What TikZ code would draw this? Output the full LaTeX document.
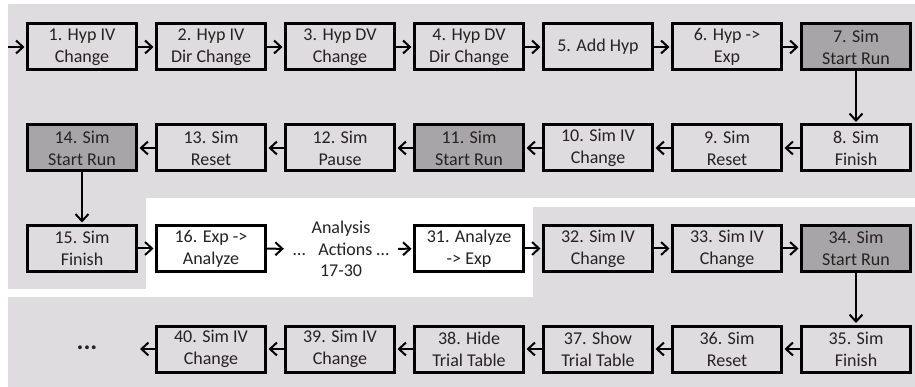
\documentclass[tikz,border=0pt]{standalone}
\usepackage{fontspec}
\setmainfont{Carlito}
\usetikzlibrary{arrows.meta}
\definecolor{panel}{RGB}{223,220,224}
\definecolor{runfill}{RGB}{167,165,168}
\definecolor{ink}{RGB}{38,34,34}

\begin{document}
\begin{tikzpicture}[x=1pt,y=-1pt,
  stepbox/.style={draw=black, line width=3pt, fill=panel,
    minimum width=109pt, minimum height=46pt, inner sep=0pt,
    align=center, text=ink, font=\fontsize{18}{22}\selectfont},
  runbox/.style={stepbox, fill=runfill},
  whitebox/.style={stepbox, fill=white},
  flow/.style={draw=black, line width=2pt,
    -{Straight Barb[length=7pt,width=13pt,line width=2pt]}, shorten >=1.5pt},
  plaintext/.style={align=center, text=ink, inner xsep=9pt, inner ysep=0pt,
    font=\fontsize{18}{21.5}\selectfont}]

% page and panels
\fill[white] (0,0) rectangle (915,387);
\useasboundingbox (0,0) rectangle (915,387);
\fill[panel] (8,4) rectangle (915,198);
\fill[panel] (8,198) rectangle (146,289);
\fill[panel] (533,207) rectangle (915,387);
\fill[panel] (8,297) rectangle (915,387);

% row 1
\coordinate (in) at (8,47);
\node[stepbox] (n1) at (82,47)  {1. Hyp IV\\Change};
\node[stepbox] (n2) at (211,47) {2. Hyp IV\\Dir Change};
\node[stepbox] (n3) at (340,47) {3. Hyp DV\\Change};
\node[stepbox] (n4) at (469,47) {4. Hyp DV\\Dir Change};
\node[stepbox] (n5) at (598,47) {5. Add Hyp};
\node[stepbox] (n6) at (727,47) {6. Hyp ->\\Exp};
\node[runbox]  (n7) at (856,47) {7. Sim\\Start Run};

% row 2
\node[stepbox] (n8)  at (856,148) {8. Sim\\Finish};
\node[stepbox] (n9)  at (727,148) {9. Sim\\Reset};
\node[stepbox] (n10) at (598,148) {10. Sim IV\\Change};
\node[runbox]  (n11) at (469,148) {11. Sim\\Start Run};
\node[stepbox] (n12) at (340,148) {12. Sim\\Pause};
\node[stepbox] (n13) at (211,148) {13. Sim\\Reset};
\node[runbox]  (n14) at (82,148)  {14. Sim\\Start Run};

% row 3
\node[stepbox]  (n15) at (82,248.5)  {15. Sim\\Finish};
\node[whitebox] (n16) at (211,248.5) {16. Exp ->\\Analyze};
\node[plaintext] (ana) at (341,249) {Analysis\\…\hspace{13pt}Actions …\\17-30};
\node[whitebox] (n31) at (469,248.5) {31. Analyze\\-> Exp};
\node[stepbox]  (n32) at (598,248.5) {32. Sim IV\\Change};
\node[stepbox]  (n33) at (727,248.5) {33. Sim IV\\Change};
\node[runbox]   (n34) at (856,248.5) {34. Sim\\Start Run};

% row 4
\node[stepbox] (n35) at (856,349) {35. Sim\\Finish};
\node[stepbox] (n36) at (727,349) {36. Sim\\Reset};
\node[stepbox] (n37) at (598,349) {37. Show\\Trial Table};
\node[stepbox] (n38) at (469,349) {38. Hide\\Trial Table};
\node[stepbox] (n39) at (340,349) {39. Sim IV\\Change};
\node[stepbox] (n40) at (211,349) {40. Sim IV\\Change};
\coordinate (out) at (140,349);
\node[text=ink, font=\fontsize{26}{26}\bfseries] (more) at (87,348) {...};

% connectors
\draw[flow] (in) -- (n1);
\foreach \a/\b in {n1/n2,n2/n3,n3/n4,n4/n5,n5/n6,n6/n7,
                   n7/n8,n8/n9,n9/n10,n10/n11,n11/n12,n12/n13,n13/n14,
                   n14/n15,n15/n16,n31/n32,n32/n33,n33/n34,
                   n34/n35,n35/n36,n36/n37,n37/n38,n38/n39,n39/n40}
  \draw[flow] (\a) -- (\b);
\draw[flow, shorten >=0pt] (n16) -- (ana);
\draw[flow] (ana) -- (n31);
\draw[flow, shorten >=0pt] (n40) -- (out);
\end{tikzpicture}
\end{document}
